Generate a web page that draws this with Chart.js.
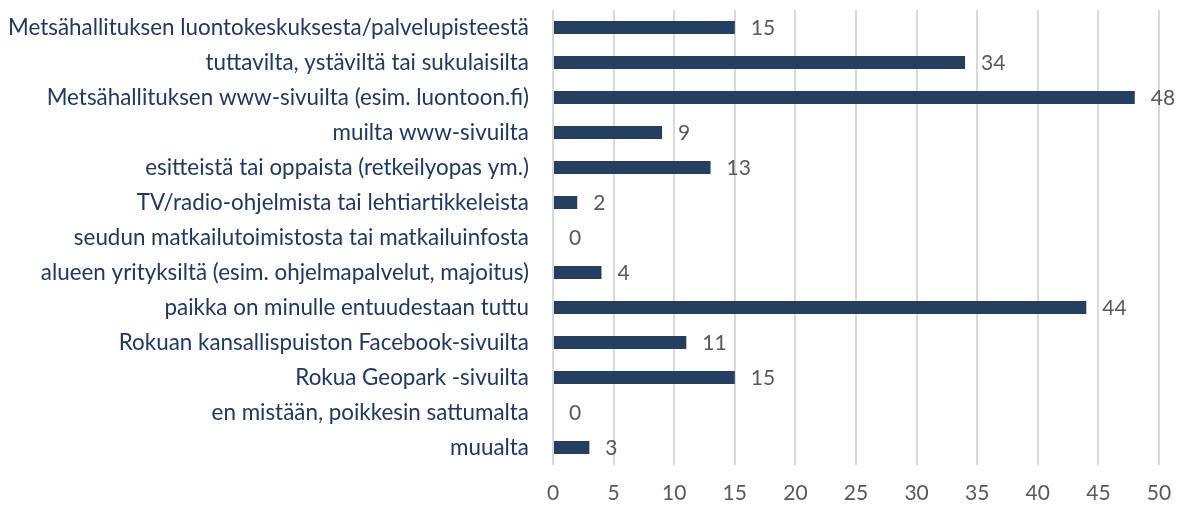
<!DOCTYPE html>
<html><head><meta charset="utf-8">
<script src="https://cdn.jsdelivr.net/npm/chart.js@4/dist/chart.umd.min.js"></script>
<style>html,body{margin:0;padding:0;background:#fff}#w{width:1182px;height:506px}</style>
</head><body><div id="w"><canvas id="c"></canvas></div>
<script>
const categories = [
  "Metsähallituksen luontokeskuksesta/palvelupisteestä",
  "tuttavilta, ystäviltä tai sukulaisilta",
  "Metsähallituksen www-sivuilta (esim. luontoon.fi)",
  "muilta www-sivuilta",
  "esitteistä tai oppaista (retkeilyopas ym.)",
  "TV/radio-ohjelmista tai lehtiartikkeleista",
  "seudun matkailutoimistosta tai matkailuinfosta",
  "alueen yrityksiltä (esim. ohjelmapalvelut, majoitus)",
  "paikka on minulle entuudestaan tuttu",
  "Rokuan kansallispuiston Facebook-sivuilta",
  "Rokua Geopark -sivuilta",
  "en mistään, poikkesin sattumalta",
  "muualta"
];
const values = [15, 34, 48, 9, 13, 2, 0, 4, 44, 11, 15, 0, 3];
const xTicks = [0, 5, 10, 15, 20, 25, 30, 35, 40, 45, 50];

const FONT = "Lato, sans-serif";

const valueLabels = {
  id: 'valueLabels',
  afterDatasetsDraw(chart) {
    const ctx = chart.ctx;
    const meta = chart.getDatasetMeta(0);
    ctx.save();
    ctx.font = "21px " + FONT;
    ctx.fillStyle = "#595959";
    ctx.textAlign = "left";
    ctx.textBaseline = "middle";
    meta.data.forEach((bar, i) => {
      ctx.fillText(String(values[i]), bar.x + 16, bar.y + 1);
    });
    ctx.restore();
  }
};

new Chart(document.getElementById('c'), {
  type: 'bar',
  data: {
    labels: categories,
    datasets: [{
      data: values,
      backgroundColor: '#243F60',
      borderWidth: 0,
      barPercentage: 0.37,
      categoryPercentage: 1.0
    }]
  },
  options: {
    indexAxis: 'y',
    responsive: true,
    maintainAspectRatio: false,
    animation: false,
    layout: { padding: { top: 10, right: 23, bottom: 0, left: 0 } },
    plugins: { legend: { display: false }, tooltip: { enabled: false } },
    scales: {
      x: {
        min: 0, max: 50,
        afterBuildTicks(scale) { scale.ticks = xTicks.map(v => ({ value: v })); },
        grid: { color: '#d9d9d9', lineWidth: 2, drawTicks: false },
        border: { display: false },
        ticks: { color: '#595959', font: { family: FONT, size: 21 }, padding: 16 },
        afterFit(scale) { scale.height = 41; scale.paddingLeft = 0; scale.paddingRight = 0; }
      },
      y: {
        grid: { display: false, drawTicks: false },
        border: { display: false },
        ticks: { color: '#1F3864', font: { family: FONT, size: 22.4 }, padding: 24, autoSkip: false },
        afterFit(scale) { scale.width = 553; scale.paddingTop = 0; scale.paddingBottom = 0; }
      }
    }
  },
  plugins: [valueLabels]
});
</script>
</body></html>
